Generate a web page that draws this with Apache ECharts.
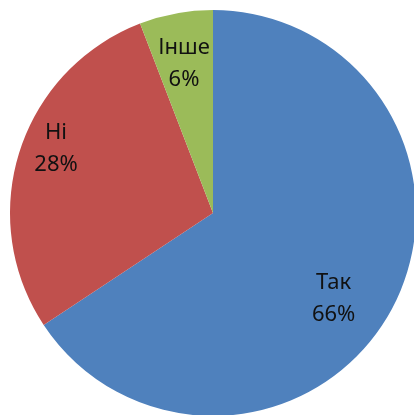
<!DOCTYPE html>
<html><head><meta charset="utf-8">
<script src="https://cdn.jsdelivr.net/npm/echarts@6/dist/echarts.min.js"></script>
<style>html,body{margin:0;padding:0;background:#fff;}#c{width:414px;height:415px;}</style>
</head><body><div id="c"></div>
<script>
const categories = ['Так', 'Ні', 'Інше'];
const values = [65.7, 28.45, 5.85];
const colors = ['#4F81BD', '#C0504D', '#9BBB59'];

const data = categories.map((n, i) => ({ name: n, value: values[i], itemStyle: { color: colors[i] } }));
const labelData = categories.map((n, i) => ({ name: n, value: values[i] }));
// label nudges (style), mimicking the original label placement
const nudges = [[-19, 11], [-6, -16], [0, 7]];

const chart = echarts.init(document.getElementById('c'), null, { renderer: 'canvas' });
chart.setOption({
  animation: false,
  backgroundColor: '#fff',
  series: [
    {
      type: 'pie', center: [213, 213], radius: [0, 203], startAngle: 90, clockwise: true,
      data: data, label: { show: false }, labelLine: { show: false },
      itemStyle: { borderWidth: 0 }, silent: true
    },
    {
      type: 'pie', center: [213, 213], radius: [108, 203], startAngle: 90, clockwise: true,
      data: labelData, silent: true,
      itemStyle: { color: 'rgba(0,0,0,0)', borderWidth: 0 },
      labelLine: { show: false },
      labelLayout: p => ({ dx: nudges[p.dataIndex][0], dy: nudges[p.dataIndex][1] }),
      label: {
        show: true, position: 'inside',
        formatter: p => p.name + '\n' + Math.round(p.percent) + '%',
        fontFamily: 'Noto Sans', fontSize: 22, lineHeight: 32, color: '#111'
      }
    }
  ]
});
</script></body></html>
